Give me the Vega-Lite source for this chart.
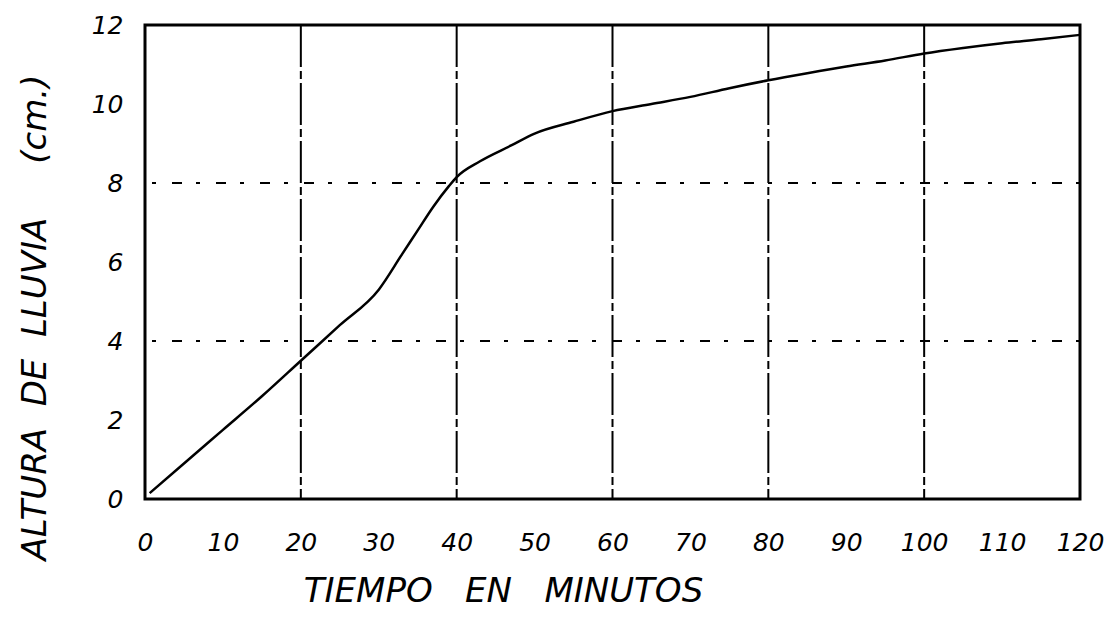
{
  "$schema": "https://vega.github.io/schema/vega-lite/v6.json",
  "width": 935,
  "height": 474,
  "autosize": "none",
  "padding": {"left": 145, "top": 25, "right": 25, "bottom": 118},
  "background": "white",
  "config": {
    "view": {"stroke": "black", "strokeWidth": 3},
    "font": "DejaVu Sans"
  },
  "datasets": {
    "lluvia": [
      {"t": 0.6, "h": 0.15}, {"t": 5, "h": 0.9}, {"t": 10, "h": 1.75}, {"t": 15, "h": 2.6},
      {"t": 20, "h": 3.5}, {"t": 25, "h": 4.4}, {"t": 30, "h": 5.3}, {"t": 33, "h": 6.2},
      {"t": 35, "h": 6.8}, {"t": 37, "h": 7.4}, {"t": 39, "h": 7.92}, {"t": 40, "h": 8.15},
      {"t": 43, "h": 8.55}, {"t": 47, "h": 8.95}, {"t": 50, "h": 9.25}, {"t": 55, "h": 9.55},
      {"t": 60, "h": 9.82}, {"t": 65, "h": 10.0}, {"t": 70, "h": 10.18}, {"t": 75, "h": 10.4},
      {"t": 80, "h": 10.6}, {"t": 85, "h": 10.78}, {"t": 90, "h": 10.95}, {"t": 95, "h": 11.1},
      {"t": 100, "h": 11.28}, {"t": 105, "h": 11.42}, {"t": 110, "h": 11.54}, {"t": 115, "h": 11.64},
      {"t": 120, "h": 11.75}
    ],
    "vgrid": [{"t": 20}, {"t": 40}, {"t": 60}, {"t": 80}, {"t": 100}],
    "hgrid": [{"h": 4}, {"h": 8}]
  },
  "layer": [
    {
      "data": {"name": "vgrid"},
      "mark": {"type": "rule", "color": "black", "strokeWidth": 2, "strokeDash": [42, 4, 8, 4]},
      "encoding": {
        "x": {"field": "t", "type": "quantitative", "scale": {"domain": [0, 120], "nice": false}}
      }
    },
    {
      "data": {"name": "hgrid"},
      "mark": {"type": "rule", "color": "black", "strokeWidth": 2, "strokeDash": [4, 14, 10, 16]},
      "encoding": {
        "y": {"field": "h", "type": "quantitative", "scale": {"domain": [0, 12], "nice": false}}
      }
    },
    {
      "data": {"name": "lluvia"},
      "mark": {"type": "line", "color": "black", "strokeWidth": 2.5, "interpolate": "monotone"},
      "encoding": {
        "x": {
          "field": "t", "type": "quantitative",
          "scale": {"domain": [0, 120], "nice": false},
          "axis": {
            "values": [0, 10, 20, 30, 40, 50, 60, 70, 80, 90, 100, 110, 120],
            "grid": false, "domain": false, "ticks": false,
            "labelFont": "DejaVu Sans", "labelFontStyle": "italic", "labelFontSize": 25,
            "labelColor": "black", "labelPadding": 31, "labelBaseline": "top",
            "labelFlush": false,
            "title": "TIEMPO\u00a0\u00a0\u00a0EN\u00a0\u00a0\u00a0MINUTOS",
            "titleFont": "DejaVu Sans", "titleFontStyle": "italic", "titleFontWeight": "normal",
            "titleFontSize": 34, "titleColor": "black",
            "titleX": 358, "titleY": 92, "titleBaseline": "middle", "titleAlign": "center"
          }
        },
        "y": {
          "field": "h", "type": "quantitative",
          "scale": {"domain": [0, 12], "nice": false},
          "axis": {
            "values": [0, 2, 4, 6, 8, 10, 12],
            "grid": false, "domain": false, "ticks": false,
            "labelFont": "DejaVu Sans", "labelFontStyle": "italic", "labelFontSize": 25,
            "labelColor": "black", "labelPadding": 22, "labelFlush": false,
            "title": "ALTURA\u00a0\u00a0DE\u00a0\u00a0LLUVIA\u00a0\u00a0\u00a0\u00a0\u00a0(cm.)",
            "titleFont": "DejaVu Sans", "titleFontStyle": "italic", "titleFontWeight": "normal",
            "titleFontSize": 34, "titleColor": "black",
            "titleAngle": -90, "titleX": -110, "titleY": 292,
            "titleBaseline": "middle", "titleAlign": "center"
          }
        }
      }
    }
  ]
}
